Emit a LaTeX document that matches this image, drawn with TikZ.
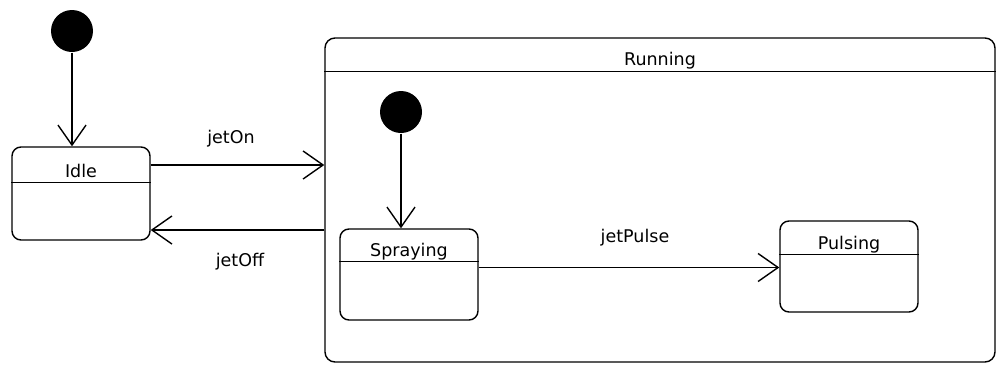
\documentclass[tikz,border=0pt]{standalone}
\usepackage{fontspec}
\setmainfont{DejaVu Sans}
\usetikzlibrary{arrows.meta, positioning}

\begin{document}
\begin{tikzpicture}[x=1pt, y=-1pt, line width=1.4pt,
		state/.style={draw, rounded corners=9pt, minimum width=138pt, inner sep=0pt},
		init/.style={circle, fill=black, minimum size=42pt, inner sep=0pt},
		trans/.style={-{Straight Barb[length=20pt, width=28pt]}},
		every node/.style={font=\fontsize{17.5}{20}\selectfont}]
				\useasboundingbox (0, 0) rectangle (997, 365);

				% left part
				\node (Init) [init] at (72, 31) {};
				\node (Idle) [state, minimum height=93pt,
					label={[anchor=base, yshift=-31pt]north:Idle}] at (81, 193.5) {};
				\draw ([yshift=-36pt]Idle.north west) -- ([yshift=-36pt]Idle.north east);
				\draw [trans] (Init) -- (Init |- Idle.north);

				% composite state
				\node (Running) [draw, rounded corners=10pt, minimum width=670pt,
					minimum height=324pt, inner sep=0pt,
					label={[anchor=base, yshift=-28pt]north:Running}] at (660, 200) {};
				\draw ([yshift=-34pt]Running.north west) -- ([yshift=-34pt]Running.north east);

				\coordinate (OnStart) at ([yshift=28.5pt]Idle.east);
				\coordinate (OffEnd) at ([yshift=-36.5pt]Idle.east);
				\draw [trans] (OnStart) -- (OnStart -| Running.west);
				\draw [trans] (OffEnd -| Running.west) -- (OffEnd);
				\node (jetOn) at (231, 139) {jetOn};
				\node (jetOff) at (240, 262) {jetOff};

				% inside Running
				\node (InitRun) [init] at (401, 112) {};
				\node (Spraying) [state, minimum height=91pt,
					label={[anchor=base, yshift=-28pt]north:Spraying}] at (409, 274.5) {};
				\draw ([yshift=-33pt]Spraying.north west) -- ([yshift=-33pt]Spraying.north east);
				\draw [trans] (InitRun) -- (InitRun |- Spraying.north);

				\node (Pulsing) [state, minimum height=91pt,
					label={[anchor=base, yshift=-29pt]north:Pulsing}] at (849, 266.5) {};
				\draw ([yshift=-34pt]Pulsing.north west) -- ([yshift=-34pt]Pulsing.north east);

				\coordinate (PulseStart) at ([yshift=7pt]Spraying.east);
				\draw [trans] (PulseStart) -- (PulseStart -| Pulsing.west);
				\node (jetPulse) at (635, 238) {jetPulse};
			\end{tikzpicture}
\end{document}
